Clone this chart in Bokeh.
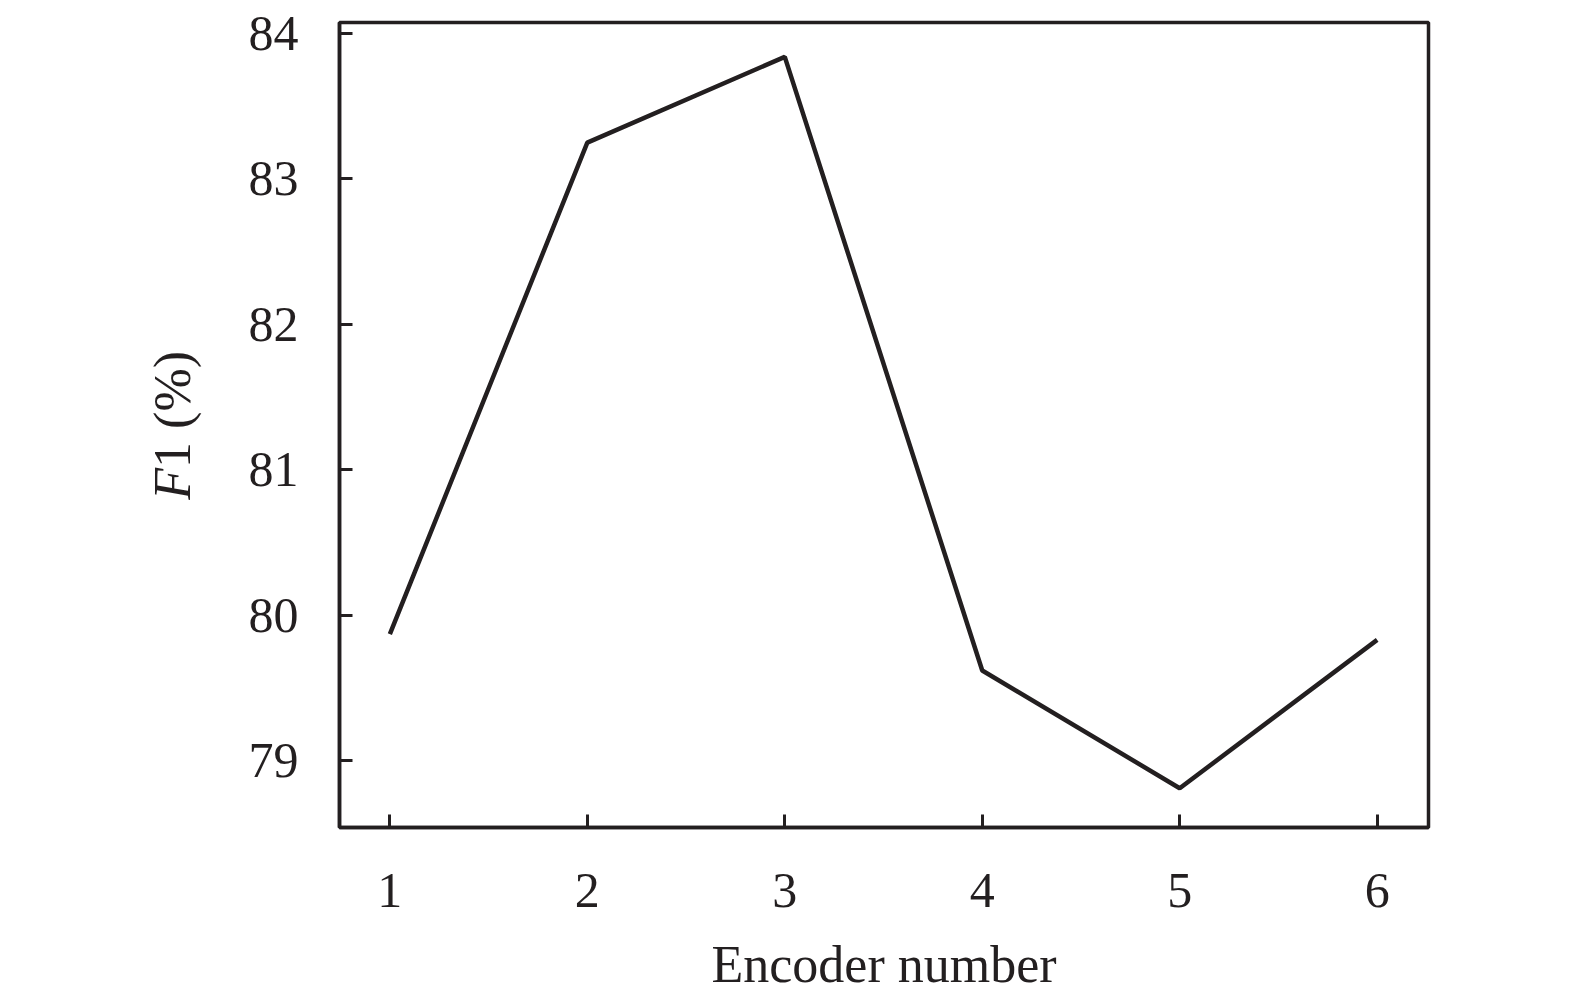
import math
from bokeh.plotting import figure
from bokeh.layouts import row
from bokeh.models import Range1d, FixedTicker
from bokeh.core.properties import value
from bokeh.embed import file_html
from bokeh.resources import INLINE

encoder_number = [1, 2, 3, 4, 5, 6]
f1_score = [79.87, 83.25, 83.84, 79.62, 78.81, 79.83]
x_ticks = [1, 2, 3, 4, 5, 6]
y_ticks = [79, 80, 81, 82, 83, 84]

ink = "#231f20"
serif = "Liberation Serif"

W, H = 1555, 1003
LW = 220  # width of the strip that holds the y axis title

p = figure(width=W - LW, height=H, output_backend="svg", toolbar_location=None,
           x_range=Range1d(0.745, 6.26), y_range=Range1d(78.54, 84.076),
           min_border_left=339 - LW, min_border_right=W - 1428,
           min_border_top=22, min_border_bottom=H - 827)

p.line(encoder_number, f1_score, line_color=ink, line_width=4.5)

p.grid.visible = False
p.outline_line_color = ink
p.outline_line_width = 3.5
p.background_fill_color = "white"
p.border_fill_color = "white"

for ax in (p.xaxis, p.yaxis):
    ax.axis_line_color = ink
    ax.axis_line_width = 3.5
    ax.major_tick_line_color = ink
    ax.major_tick_line_width = 3
    ax.major_tick_in = 13
    ax.major_tick_out = 0
    ax.minor_tick_line_color = None
    ax.major_label_text_font = serif
    ax.major_label_text_font_size = "50px"
    ax.major_label_text_color = ink

p.xaxis.ticker = FixedTicker(ticks=x_ticks)
p.yaxis.ticker = FixedTicker(ticks=y_ticks)
p.xaxis.major_label_standoff = 46
p.yaxis.major_label_standoff = 41

p.xaxis.axis_label = "Encoder number"
p.xaxis.axis_label_text_font = serif
p.xaxis.axis_label_text_font_style = "normal"
p.xaxis.axis_label_text_font_size = "52px"
p.xaxis.axis_label_text_color = ink
p.xaxis.axis_label_standoff = 26

# y axis title in its own strip: italic "F" followed by upright "1 (%)"
yl = figure(width=LW, height=H, output_backend="svg", toolbar_location=None,
            title=None, x_axis_location=None, y_axis_location=None,
            x_range=Range1d(0, LW), y_range=Range1d(0, H), min_border=0)
yl.grid.visible = False
yl.outline_line_color = None
yl.border_fill_color = "white"

tx, ty = 172, H - 462 - 93
yl.text(x=[tx], y=[ty], text=["F"], angle=math.pi / 2,
        text_align="right", text_baseline="alphabetic",
        text_font=value(serif), text_font_style="italic",
        text_font_size="52px", text_color=ink)
yl.text(x=[tx], y=[ty], text=["1 (%)"], angle=math.pi / 2,
        text_align="left", text_baseline="alphabetic",
        text_font=value(serif), text_font_size="52px", text_color=ink)

layout = row(yl, p)
open("out.html", "w").write(file_html(layout, INLINE))
